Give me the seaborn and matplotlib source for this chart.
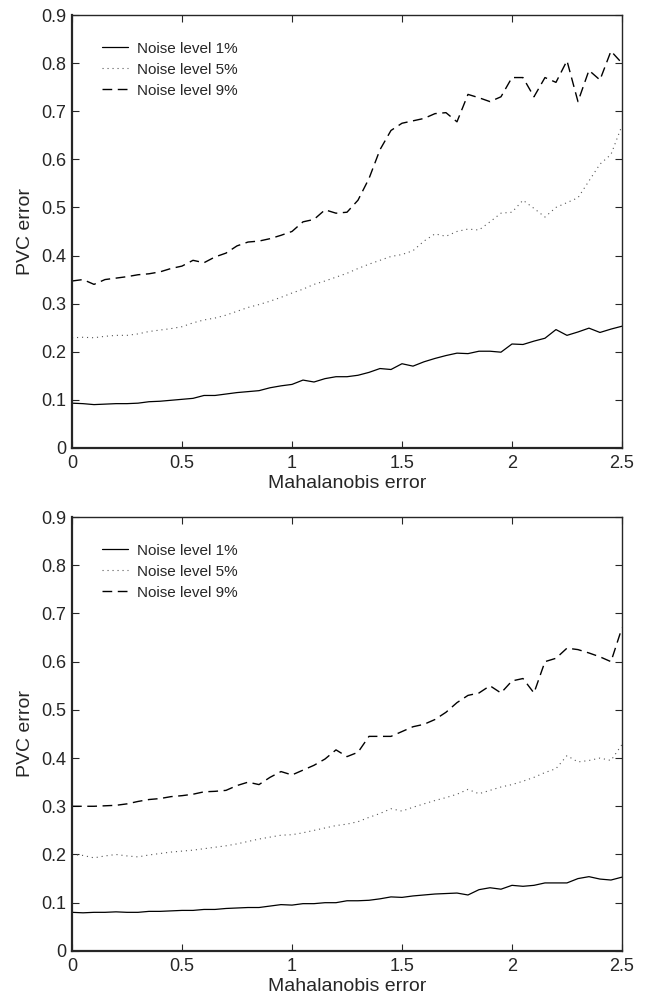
import numpy as np
import pandas as pd
import matplotlib
matplotlib.use("Agg")
import matplotlib.pyplot as plt
import seaborn as sns

# Mahalanobis error grid (51 points, step 0.05)
mahal = [round(0.05 * i, 2) for i in range(51)]

# top panel
top_1 = [0.093, 0.092, 0.090, 0.091, 0.092, 0.092, 0.093, 0.096, 0.097, 0.099,
         0.101, 0.103, 0.109, 0.109, 0.112, 0.115, 0.117, 0.119, 0.125, 0.129,
         0.132, 0.141, 0.137, 0.144, 0.148, 0.148, 0.151, 0.157, 0.165, 0.163,
         0.175, 0.170, 0.179, 0.186, 0.192, 0.197, 0.196, 0.201, 0.201, 0.199,
         0.216, 0.215, 0.222, 0.228, 0.246, 0.234, 0.241, 0.249, 0.240, 0.247,
         0.253]
top_5 = [0.229, 0.230, 0.229, 0.232, 0.234, 0.234, 0.237, 0.242, 0.245, 0.248,
         0.252, 0.260, 0.266, 0.270, 0.276, 0.284, 0.292, 0.298, 0.305, 0.313,
         0.322, 0.330, 0.340, 0.347, 0.355, 0.363, 0.373, 0.382, 0.390, 0.398,
         0.402, 0.410, 0.430, 0.445, 0.440, 0.450, 0.455, 0.453, 0.470, 0.488,
         0.490, 0.515, 0.498, 0.480, 0.500, 0.510, 0.520, 0.555, 0.590, 0.610,
         0.670]
top_9 = [0.347, 0.350, 0.340, 0.350, 0.353, 0.356, 0.360, 0.362, 0.366, 0.373,
         0.378, 0.390, 0.385, 0.397, 0.405, 0.420, 0.428, 0.430, 0.435, 0.442,
         0.450, 0.470, 0.475, 0.495, 0.488, 0.490, 0.515, 0.560, 0.620, 0.660,
         0.675, 0.680, 0.685, 0.695, 0.697, 0.678, 0.735, 0.728, 0.720, 0.730,
         0.770, 0.770, 0.730, 0.770, 0.760, 0.805, 0.720, 0.785, 0.765, 0.825,
         0.800]

# bottom panel
bot_1 = [0.080, 0.079, 0.080, 0.080, 0.081, 0.080, 0.080, 0.082, 0.082, 0.083,
         0.084, 0.084, 0.086, 0.086, 0.088, 0.089, 0.090, 0.090, 0.093, 0.096,
         0.095, 0.098, 0.098, 0.100, 0.100, 0.104, 0.104, 0.105, 0.108, 0.112,
         0.111, 0.114, 0.116, 0.118, 0.119, 0.120, 0.116, 0.127, 0.131, 0.128,
         0.136, 0.134, 0.136, 0.141, 0.141, 0.141, 0.150, 0.154, 0.149, 0.147,
         0.153]
bot_5 = [0.200, 0.198, 0.193, 0.197, 0.200, 0.197, 0.195, 0.199, 0.202, 0.205,
         0.207, 0.209, 0.212, 0.215, 0.218, 0.222, 0.227, 0.232, 0.236, 0.240,
         0.241, 0.245, 0.250, 0.255, 0.260, 0.263, 0.268, 0.277, 0.285, 0.295,
         0.290, 0.298, 0.305, 0.312, 0.318, 0.325, 0.335, 0.326, 0.333, 0.340,
         0.345, 0.352, 0.360, 0.370, 0.378, 0.405, 0.392, 0.395, 0.400, 0.395,
         0.428]
bot_9 = [0.300, 0.300, 0.300, 0.301, 0.302, 0.305, 0.310, 0.314, 0.316, 0.320,
         0.322, 0.325, 0.330, 0.331, 0.333, 0.343, 0.350, 0.345, 0.360, 0.372,
         0.365, 0.375, 0.385, 0.398, 0.417, 0.403, 0.412, 0.445, 0.445, 0.445,
         0.455, 0.465, 0.470, 0.480, 0.495, 0.515, 0.530, 0.535, 0.550, 0.535,
         0.560, 0.565, 0.535, 0.600, 0.607, 0.628, 0.625, 0.618, 0.610, 0.600,
         0.670]

levels = ["Noise level 1%", "Noise level 5%", "Noise level 9%"]
x_ticks = [0, 0.5, 1, 1.5, 2, 2.5]
x_ticklabels = ["0", "0.5", "1", "1.5", "2", "2.5"]
y_ticks = [0, 0.1, 0.2, 0.3, 0.4, 0.5, 0.6, 0.7, 0.8, 0.9]
y_ticklabels = ["0", "0.1", "0.2", "0.3", "0.4", "0.5", "0.6", "0.7", "0.8", "0.9"]


def long_form(s1, s5, s9):
    parts = []
    for lev, vals in zip(levels, [s1, s5, s9]):
        parts.append(pd.DataFrame({"mahal": mahal, "pvc": vals, "nivel": lev}))
    return pd.concat(parts, ignore_index=True)


sns.set_style("ticks")
plt.rcParams["font.family"] = ["Liberation Sans", "DejaVu Sans"]
plt.rcParams["xtick.direction"] = "in"
plt.rcParams["ytick.direction"] = "in"

fig = plt.figure(figsize=(6.47, 10.02), dpi=100)
ax_top = fig.add_axes([0.1113, 0.553, 0.850, 0.432])
ax_bot = fig.add_axes([0.1113, 0.051, 0.850, 0.433])

palette = {lev: "black" for lev in levels}
dashes = {levels[0]: "", levels[1]: (1, 3.5), levels[2]: (7, 4)}
widths = {levels[0]: 0.9, levels[1]: 0.8, levels[2]: 1.0}

for ax, data in [(ax_top, long_form(top_1, top_5, top_9)),
                 (ax_bot, long_form(bot_1, bot_5, bot_9))]:
    sns.lineplot(data=data, x="mahal", y="pvc", hue="nivel", style="nivel",
                 palette=palette, dashes=dashes, ax=ax, legend=True)
    for line, lev in zip(ax.get_lines(), levels):
        line.set_linewidth(widths[lev])
        if lev == levels[1]:
            line.set_color("#555555")

    ax.set_xlim(0, 2.5)
    ax.set_ylim(0, 0.9)
    ax.set_xticks(x_ticks)
    ax.set_xticklabels(x_ticklabels)
    ax.set_yticks(y_ticks)
    ax.set_yticklabels(y_ticklabels)
    ax.tick_params(axis="both", labelsize=13, length=5, width=0.8,
                   top=True, right=True)
    ax.tick_params(axis="x", pad=5)
    ax.tick_params(axis="y", pad=4)
    for sp in ax.spines.values():
        sp.set_visible(True)
        sp.set_linewidth(1.0)
    ax.spines["left"].set_linewidth(1.6)
    ax.spines["bottom"].set_linewidth(1.6)
    ax.set_xlabel("Mahalanobis error", fontsize=14, labelpad=2)
    ax.set_ylabel("PVC error", fontsize=14, labelpad=5)

    handles = ax.get_legend().legend_handles
    for h, lev in zip(handles, levels):
        h.set_linewidth(widths[lev])
        if lev == levels[1]:
            h.set_color("#555555")
    ax.legend(handles=handles, labels=levels, loc="upper left",
              bbox_to_anchor=(0.03, 0.97), frameon=False, fontsize=11,
              handlelength=1.7, handletextpad=0.6, labelspacing=0.45)

fig.savefig("out.png", dpi=100)
